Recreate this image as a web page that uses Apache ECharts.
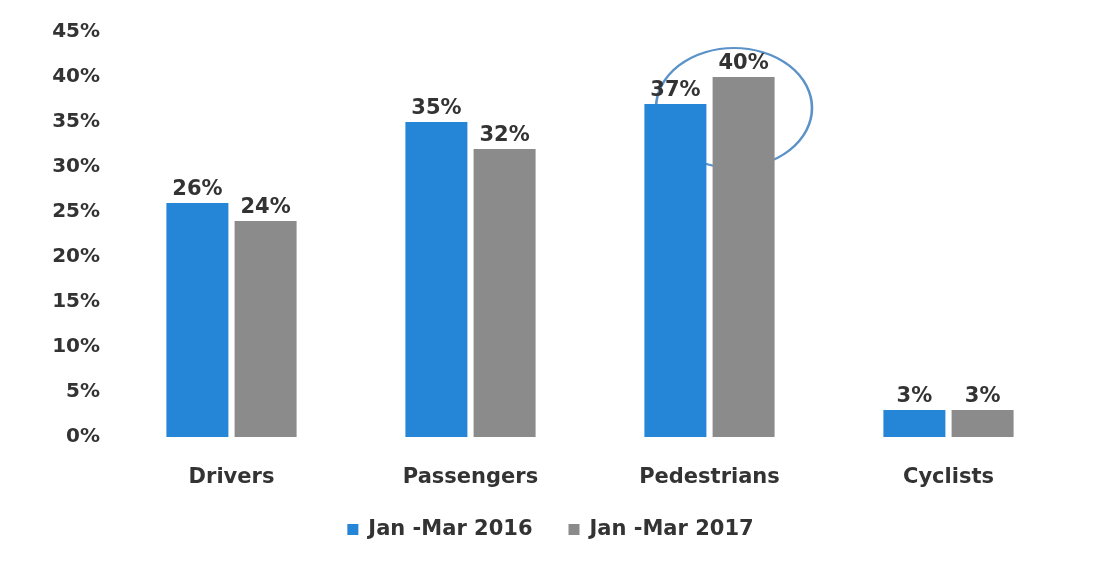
<!DOCTYPE html>
<html>
<head>
<meta charset="utf-8">
<script src="https://cdn.jsdelivr.net/npm/echarts@6/dist/echarts.min.js"></script>
<style>html,body{margin:0;padding:0;background:#fff;}#c{width:1101px;height:571px;}</style>
</head>
<body>
<div id="c"></div>
<script>
const categories = ['Drivers', 'Passengers', 'Pedestrians', 'Cyclists'];
const series2016 = [26, 35, 37, 3];
const series2017 = [24, 32, 40, 3];
const seriesNames = ['Jan -Mar 2016', 'Jan -Mar 2017'];

const chart = echarts.init(document.getElementById('c'));
const font = '"DejaVu Sans", "Liberation Sans", sans-serif';
const labelStyle = {
  show: true, position: 'top', distance: 3,
  formatter: '{c}%', color: '#333', fontFamily: font, fontWeight: 'bold', fontSize: 21
};
chart.setOption({
  backgroundColor: '#ffffff',
  animation: false,
  grid: { left: 112, right: 33, top: 32, bottom: 134 },
  legend: {
    data: seriesNames, top: 514, left: 'center', itemWidth: 11, itemHeight: 11, itemGap: 36,
    icon: 'rect',
    textStyle: { color: '#333', fontFamily: font, fontWeight: 'bold', fontSize: 21, padding: [0, 0, 0, 5] }
  },
  xAxis: {
    type: 'category', data: categories,
    axisLine: { show: false }, axisTick: { show: false },
    axisLabel: { margin: 30, color: '#333', fontFamily: font, fontWeight: 'bold', fontSize: 21 }
  },
  yAxis: {
    type: 'value', min: 0, max: 45, interval: 5,
    splitLine: { show: false }, axisLine: { show: false }, axisTick: { show: false },
    axisLabel: { formatter: '{value}%', margin: 12, color: '#333', fontFamily: font, fontWeight: 'bold', fontSize: 20 }
  },
  series: [
    { name: seriesNames[0], type: 'bar', data: series2016, barWidth: 62, barGap: '10%',
      itemStyle: { color: '#2585d6' }, label: labelStyle },
    { name: seriesNames[1], type: 'bar', data: series2017, barWidth: 62,
      itemStyle: { color: '#8b8b8b' }, label: labelStyle }
  ],
  graphic: [{
    type: 'circle', shape: { cx: 0, cy: 0, r: 60 }, x: 734, y: 108, scaleX: 1.3, scaleY: 1,
    style: { fill: 'none', stroke: '#5b93c8', lineWidth: 2 }, silent: true
  }]
});
</script>
</body>
</html>
